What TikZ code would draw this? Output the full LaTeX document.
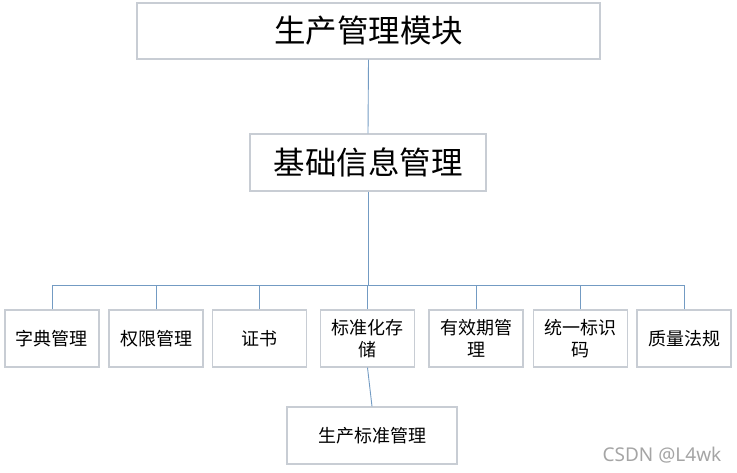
\documentclass[tikz,border=0pt]{standalone}
\usepackage{fontspec}
\newfontfamily\cjk{Noto Sans CJK SC}
\newfontfamily\wmfont{Noto Sans}
\definecolor{boxedge}{RGB}{200,205,212}
\definecolor{linkcol}{RGB}{115,155,195}
\definecolor{wmgray}{RGB}{165,165,165}
\begin{document}
\begin{tikzpicture}[x=1pt,y=-1pt,
  box/.style={draw=boxedge,line width=1.2pt,fill=white,rectangle,inner sep=0pt,align=center},
  bigbox/.style={box,font=\cjk\fontsize{31.5}{36}\selectfont},
  smallbox/.style={box,minimum width=94pt,minimum height=57pt,font=\cjk\fontsize{18}{22}\selectfont},
  link/.style={draw=linkcol,line width=0.9pt}]
\useasboundingbox (0,0) rectangle (737,472);
\node[bigbox,minimum width=463pt,minimum height=56pt] (top) at (368.5,31) {生产管理模块};
\node[bigbox,minimum width=236pt,minimum height=57pt] (base) at (368,162.5) {基础信息管理};
\node[smallbox] (b1) at (52,338.5) {字典管理};
\node[smallbox] (b2) at (156,338.5) {权限管理};
\node[smallbox] (b3) at (259.5,338.5) {证书};
\node[smallbox] (b4) at (367.5,338.5) {标准化存\\储};
\node[smallbox] (b5) at (476,338.5) {有效期管\\理};
\node[smallbox] (b6) at (580.5,338.5) {统一标识\\码};
\node[smallbox] (b7) at (684,338.5) {质量法规};
\node[smallbox,minimum width=170pt] (bot) at (372,435.5) {生产标准管理};
\coordinate (bus) at (368,285);
\draw[link] (top.south) -- (base.north);
\draw[link] (base.south) -- (bus);
\foreach \b in {b1,b2,b3,b4,b5,b6,b7} {\draw[link] (\b.north) |- (bus);}
\draw[link] (b4.south) -- (bot.north);
\node[font=\wmfont\fontsize{19}{22}\selectfont,text=wmgray,inner sep=0pt] (wm) at (662,455) {CSDN @L4wk};
\end{tikzpicture}
\end{document}
